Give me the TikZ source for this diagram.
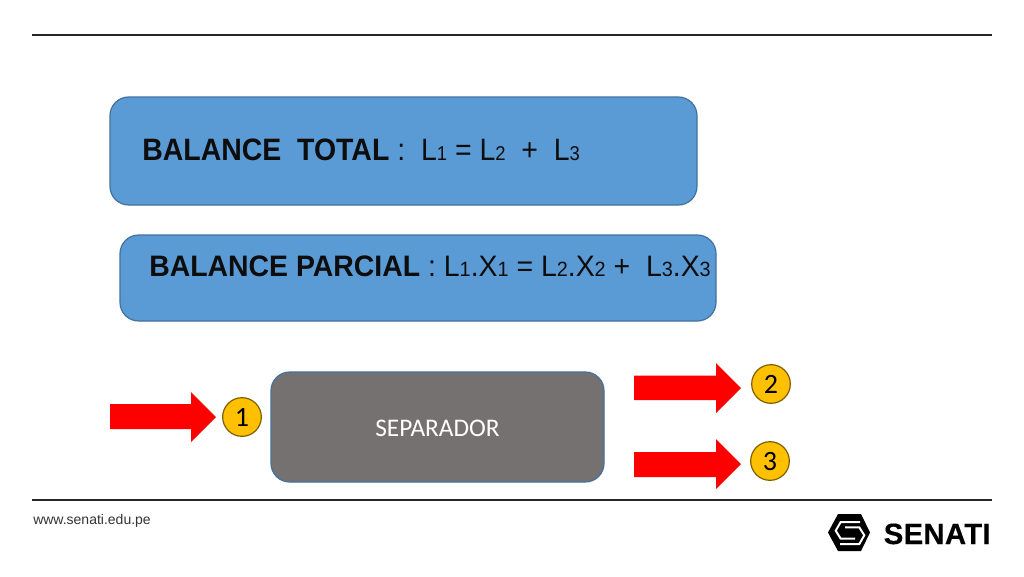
\documentclass[tikz,border=0pt]{standalone}
\usepackage{fontspec}
\setmainfont{Liberation Sans}
\newfontfamily\carl{Carlito}
\newfontfamily\heavy[FakeBold=0.4,LetterSpace=1]{Liberation Sans Bold}
\definecolor{boxblue}{HTML}{5B9BD5}
\definecolor{boxedge}{HTML}{41719C}
\definecolor{sepgray}{HTML}{767171}
\definecolor{numgold}{HTML}{FFC000}
\definecolor{numedge}{HTML}{7F6000}
\newcommand{\Ls}[2]{{\fontsize{#2}{#2}\selectfont #1}}
\tikzset{
 x=0.75pt,y=-0.75pt,
 panel/.style={draw=boxedge,line width=0.9pt,fill=boxblue,rounded corners=14pt},
 sepbox/.style={draw=boxedge,line width=0.9pt,fill=sepgray,rounded corners=14pt},
 redarrow/.style={fill=red},
 rule/.style={line width=1.5pt,draw=black!85},
 num/.style={circle,draw=numedge,line width=0.9pt,fill=numgold,minimum size=29pt,inner sep=0pt,font=\carl\fontsize{21}{21}\selectfont,text=black},
 eq/.style={anchor=base west,inner sep=0pt,text=black!95},
}
\begin{document}
\begin{tikzpicture}
\useasboundingbox (0,0) rectangle (1024,576);
\fill[white] (0,0) rectangle (1024,576);
\draw[rule] (32,35) -- (992,35);
\draw[rule] (32,500) -- (992,500);
\draw[panel] (110,97) rectangle (697,205);
\draw[panel] (120,235) rectangle (716,321);
\draw[sepbox] (271,372) rectangle (604,482);
\node[eq] (t1) at (142,160.5) {\scalebox{0.92}[1]{\fontsize{23.2}{23.2}\selectfont\textbf{BALANCE\ \ TOTAL} :\ \ L\Ls{1}{15} = L\Ls{2}{15}\ \ +\ \ L\Ls{3}{15}}};
\node[eq] (t2) at (149,276) {\scalebox{0.96}[1]{\fontsize{22.2}{22.2}\selectfont\textbf{BALANCE PARCIAL} : L\Ls{1}{15.5}.X\Ls{1}{15.5} = L\Ls{2}{15.5}.X\Ls{2}{15.5} +\ \ L\Ls{3}{15.5}.X\Ls{3}{15.5}}};
\node[text=white,inner sep=0pt,font=\carl\fontsize{19}{19}\selectfont] (sep) at (437.5,428) {SEPARADOR};
\fill[redarrow] (110,404) -- (191,404) -- (191,392) -- (216,417) -- (191,442) -- (191,429) -- (110,429) -- cycle;
\fill[redarrow] (634,375.5) -- (716,375.5) -- (716,363) -- (741,388) -- (716,413) -- (716,400) -- (634,400) -- cycle;
\fill[redarrow] (634,452) -- (716,452) -- (716,439) -- (741,464) -- (716,489) -- (716,477) -- (634,477) -- cycle;
\node[num] (n1) at (242,417) {1};
\node[num] (n2) at (771,384) {2};
\node[num] (n3) at (770,461) {3};
\node[anchor=base west,inner sep=0pt,font=\fontsize{10.5}{10.5}\selectfont,text=black!80] (web) at (33,524) {www.senati.edu.pe};
\node[anchor=base west,inner sep=0pt,font=\heavy\fontsize{22}{22}\selectfont,text=black] (brand) at (883.5,544) {SENATI};
% logo
\fill[black] (838,514) -- (861,514) -- (870,532.5) -- (861,551) -- (838,551) -- (828,532.5) -- cycle;
\draw[white,line width=1.5pt,line join=miter] (860,522) -- (840.7,522) -- (835.7,530.7) -- (840.7,538.7) -- (855,538.7);
\draw[white,line width=1.5pt,line join=miter] (840,544) -- (859.3,544) -- (864.3,535.3) -- (859.3,527.3) -- (845,527.3);
\end{tikzpicture}
\end{document}
